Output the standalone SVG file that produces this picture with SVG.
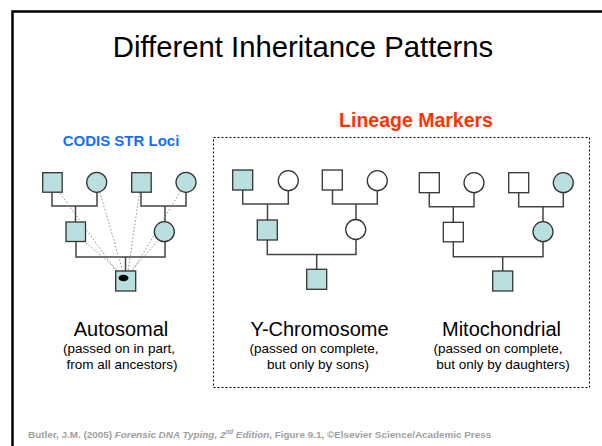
<svg xmlns="http://www.w3.org/2000/svg" width="602" height="446" viewBox="0 0 602 446">
<style>
.sq{fill:#fff;stroke:#333;stroke-width:1.3}
.f{fill:#B9DFE0}
.ln{fill:none;stroke:#444;stroke-width:1.5}
.dot{stroke:#777;stroke-width:0.8;stroke-dasharray:1.5,2;fill:none}
text{font-family:"Liberation Sans",Arial,sans-serif}
.lab{font-size:20px;text-anchor:middle;fill:#000}
.sub{font-size:13.5px;text-anchor:middle;fill:#000}
</style>
<rect x="12.5" y="11.5" width="600" height="450" fill="#fff" stroke="#000" stroke-width="2.5"/>
<text x="303" y="57" font-size="29.3" text-anchor="middle">Different Inheritance Patterns</text>
<text x="416" y="126.5" font-size="19.5" font-weight="bold" fill="#FF3300" text-anchor="middle">Lineage Markers</text>
<text x="121" y="145.5" font-size="15" font-weight="bold" fill="#1A6CF5" text-anchor="middle">CODIS STR Loci</text>
<rect x="213.5" y="137.5" width="376" height="250" fill="none" stroke="#000" stroke-width="1" stroke-dasharray="2,2"/>

<g id="connectors">
  <path class="ln" d="M52,192 V206 H97 V192 M75.5,206 V222"/>
  <path class="ln" d="M141,192 V206 H186 V192 M165,206 V222"/>
  <path class="ln" d="M76,242 V257 H165 V242 M125.5,257 V271"/>
  <path class="ln" d="M242.7,190 V204 H288.3 V190.7 M267.5,204 V220"/>
  <path class="ln" d="M332.5,190 V204 H377.3 V190.7 M356,204 V219.5"/>
  <path class="ln" d="M267.3,240 V254.5 H356 V239.3 M316.7,254.5 V269.3"/>
  <path class="ln" d="M429.3,192.7 V206.7 H474 V192.7 M453.3,206.7 V222.3"/>
  <path class="ln" d="M518.7,192.7 V206.7 H563.3 V192.7 M543,206.7 V221.7"/>
  <path class="ln" d="M453.3,241.7 V256.7 H543 V241.7 M502.7,256.7 V271"/>
  <g id="dotted">
    <line class="dot" x1="52" y1="182" x2="117" y2="272"/>
    <line class="dot" x1="97" y1="182" x2="123" y2="272"/>
    <line class="dot" x1="141" y1="182" x2="128" y2="272"/>
    <line class="dot" x1="186" y1="182" x2="132" y2="272"/>
    <line class="dot" x1="78" y1="236" x2="120" y2="272"/>
    <line class="dot" x1="162" y1="236" x2="130" y2="272"/>
  </g>
</g>

<g id="autosomal">
  <rect id="a-gf1" class="sq f" x="42.7" y="172.7" width="19.5" height="19.5"/>
  <circle id="a-gm1" class="sq f" cx="96.7" cy="182.3" r="10"/>
  <rect id="a-gf2" class="sq f" x="131.7" y="172.7" width="19.5" height="19.5"/>
  <circle id="a-gm2" class="sq f" cx="186" cy="182.3" r="10"/>
  <rect id="a-f" class="sq f" x="66" y="222" width="19.5" height="19.5"/>
  <circle id="a-m" class="sq f" cx="164.3" cy="231.7" r="10"/>
  <g id="a-child">
    <rect class="sq f" x="115.7" y="271" width="20" height="20"/>
    <ellipse cx="123.5" cy="278" rx="5" ry="3.2" fill="#000"/>
  </g>
</g>
<g id="ychrom">
  <rect class="sq f" x="232.7" y="170" width="20" height="20"/>
  <circle class="sq" cx="288.3" cy="180.7" r="10"/>
  <rect class="sq" x="322.3" y="170" width="20" height="20"/>
  <circle class="sq" cx="377.3" cy="180.7" r="10"/>
  <rect class="sq f" x="257.3" y="220" width="20" height="20"/>
  <circle class="sq" cx="355.7" cy="229.5" r="10"/>
  <rect class="sq f" x="306.7" y="269.3" width="20" height="20"/>
</g>
<g id="mito">
  <rect class="sq" x="419.3" y="172.7" width="20" height="20"/>
  <circle class="sq" cx="474" cy="182.7" r="10"/>
  <rect class="sq" x="508.7" y="172.7" width="20" height="20"/>
  <circle class="sq f" cx="563.3" cy="182.7" r="10"/>
  <rect class="sq" x="443.3" y="222.3" width="20" height="19.5"/>
  <circle class="sq f" cx="543" cy="231.7" r="10"/>
  <rect class="sq f" x="492.7" y="271" width="20" height="20"/>
</g>

<g id="labels">
  <text class="lab" x="121" y="336">Autosomal</text>
  <text class="sub" x="119" y="353">(passed on in part,</text>
  <text class="sub" x="122" y="369">from all ancestors)</text>
  <text class="lab" x="319.5" y="336">Y-Chromosome</text>
  <text class="sub" x="314" y="353">(passed on complete,</text>
  <text class="sub" x="318" y="369">but only by sons)</text>
  <text class="lab" x="501.5" y="336">Mitochondrial</text>
  <text class="sub" x="498" y="353">(passed on complete,</text>
  <text class="sub" x="503" y="369">but only by daughters)</text>
</g>
<text x="28" y="438" font-size="9.9" font-weight="bold" fill="#A0A0A0">Butler, J.M. (2005) <tspan font-style="italic">Forensic DNA Typing, 2<tspan font-size="6.3" dy="-3.6">nd</tspan><tspan dy="3.6"> Edition</tspan></tspan>, Figure 9.1, ©Elsevier Science/Academic Press</text>
</svg>
